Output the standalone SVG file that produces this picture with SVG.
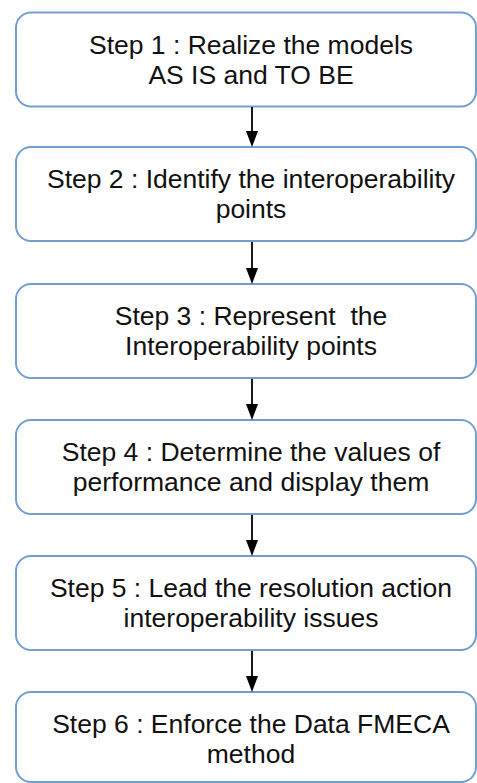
<svg xmlns="http://www.w3.org/2000/svg" width="477" height="783" viewBox="0 0 477 783">
<style>
.box{fill:#ffffff;stroke:#729fcf;stroke-width:2}
.t{font-family:"Liberation Sans",Arial,sans-serif;font-size:26.5px;fill:#111111;text-anchor:middle}
.ln{stroke:#1a1a1a;stroke-width:2;fill:none}
.hd{fill:#000000}
</style>
<rect width="477" height="783" fill="#ffffff"/>
<g id="step1"><rect class="box" x="16" y="12.5" width="460" height="94" rx="15"/>
<text class="t" x="251" y="53.5">Step 1 : Realize the models</text>
<text class="t" x="251" y="83.5">AS IS and TO BE</text></g>
<g id="step2"><rect class="box" x="16" y="147" width="460" height="94" rx="15"/>
<text class="t" x="251" y="187.5">Step 2 : Identify the interoperability</text>
<text class="t" x="251" y="217.5">points</text></g>
<g id="step3"><rect class="box" x="16" y="284" width="460" height="94" rx="15"/>
<text class="t" x="251" y="324.5" xml:space="preserve">Step 3 : Represent  the</text>
<text class="t" x="251" y="354.5">Interoperability points</text></g>
<g id="step4"><rect class="box" x="16" y="420" width="460" height="94" rx="15"/>
<text class="t" x="251" y="460.5">Step 4 : Determine the values of</text>
<text class="t" x="251" y="490.5">performance and display them</text></g>
<g id="step5"><rect class="box" x="16" y="556" width="460" height="94" rx="15"/>
<text class="t" x="251" y="596.5">Step 5 : Lead the resolution action</text>
<text class="t" x="251" y="626.5">interoperability issues</text></g>
<g id="step6"><rect class="box" x="16" y="692" width="460" height="90" rx="15"/>
<text class="t" x="251" y="732.5">Step 6 : Enforce the Data FMECA</text>
<text class="t" x="251" y="762.5">method</text></g>
<g id="connectors">
<line class="ln" x1="252" y1="107" x2="252" y2="133"/><polygon class="hd" points="246,131 258,131 252,147"/>
<line class="ln" x1="252" y1="242" x2="252" y2="270"/><polygon class="hd" points="246,268 258,268 252,284"/>
<line class="ln" x1="252" y1="379" x2="252" y2="406"/><polygon class="hd" points="246,404 258,404 252,420"/>
<line class="ln" x1="252" y1="515" x2="252" y2="542"/><polygon class="hd" points="246,540 258,540 252,556"/>
<line class="ln" x1="252" y1="651" x2="252" y2="678"/><polygon class="hd" points="246,676 258,676 252,692"/>
</g>
</svg>
